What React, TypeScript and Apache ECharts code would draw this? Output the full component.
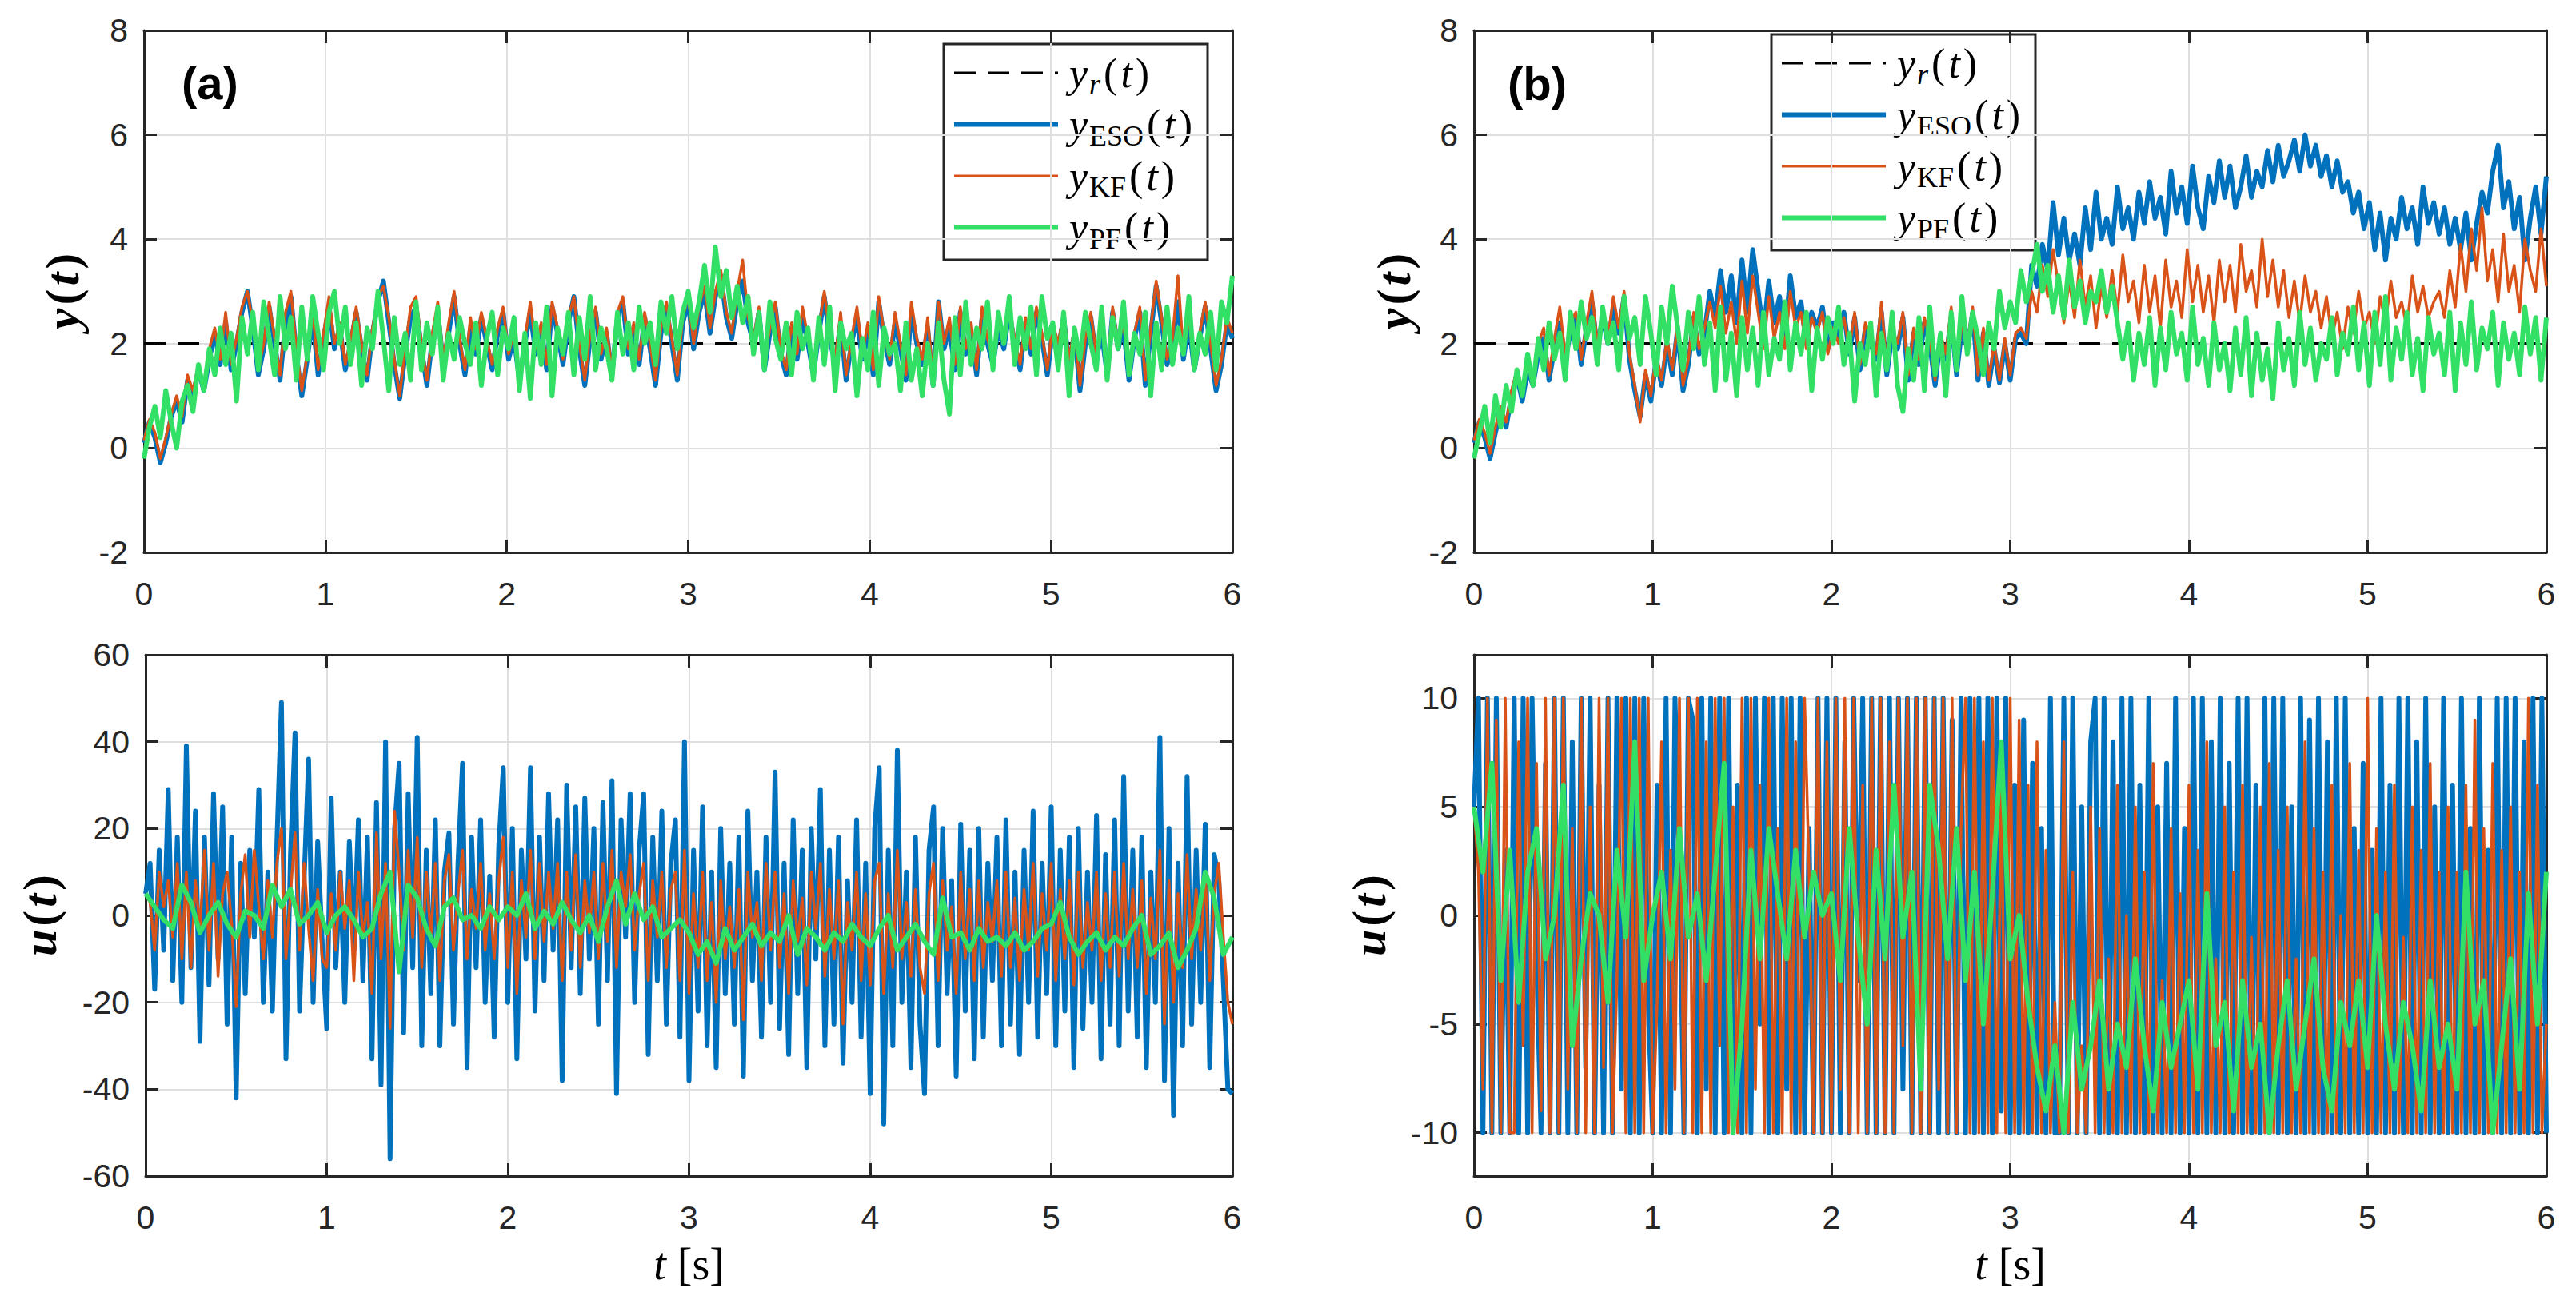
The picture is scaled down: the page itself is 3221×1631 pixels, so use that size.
import React, { useEffect, useRef } from 'react';
import * as echarts from 'echarts';

// every run lasts 6 s, the set-point is constant
const tEnd = 6;
const yRefLevel = 2;

// (a) output y(t)
const yEsoA = [
  0.1, 0.5, 0.2, -0.28, 0.1, 0.6, 0.9, 0.5, 1.3, 1.0,
  1.5, 1.1, 1.7, 2.2, 1.6, 2.4, 1.5, 2.0, 2.6, 3.0,
  2.3, 1.4, 1.9, 2.7, 2.0, 1.3, 2.4, 2.9, 1.8, 1.0,
  1.7, 2.5, 1.4, 2.1, 2.7, 1.9, 2.3, 1.5, 2.0, 2.6,
  1.9, 1.3, 2.2, 2.8, 3.2, 2.4, 1.6, 0.95, 1.8, 2.5,
  2.7, 1.9, 1.2, 2.1, 2.6, 1.6, 2.2, 2.9, 2.0, 1.4,
  2.3, 1.8, 2.5, 2.0, 1.5, 2.2, 2.6, 1.7, 2.1, 1.3,
  2.0, 2.6, 1.8, 2.3, 1.5, 2.7, 2.2, 1.6, 2.4, 2.9,
  1.9, 1.2, 2.1, 2.6, 1.7, 2.2, 1.4, 2.5, 2.8, 1.8,
  2.3, 1.6, 2.5, 1.9, 1.2, 2.2, 2.7, 2.0, 1.3, 2.4,
  2.8, 1.9, 2.6, 3.0, 2.2, 2.9, 3.3, 2.5, 2.1, 2.8,
  3.2, 2.4, 2.0, 2.6, 1.5, 2.2, 2.7, 1.8, 1.4, 2.3,
  1.7, 2.5, 2.0, 1.4, 2.2, 2.9, 2.1, 1.6, 2.4, 1.3,
  2.0, 2.5, 1.7, 2.2, 1.4, 2.8, 2.1, 1.6, 2.4, 1.9,
  1.3, 2.6, 2.0, 1.6, 2.3, 1.2, 2.8, 1.9, 2.3, 1.5,
  2.6, 1.8, 2.2, 1.4, 2.5, 2.0, 1.6, 2.3, 1.9, 2.6,
  2.0, 1.5, 2.4, 1.8, 2.6, 2.1, 1.4, 2.3, 1.9, 2.5,
  1.6, 2.2, 1.1, 2.0, 2.5, 1.7, 2.2, 1.4, 2.6, 1.9,
  2.3, 1.3, 2.1, 2.6, 1.2, 2.2, 3.1, 2.4, 1.6, 2.0,
  2.8, 1.7, 2.4, 1.5, 2.1, 2.7, 1.9, 1.1, 1.6, 2.4,
  2.1,
];
const yKfA = [
  0.15, 0.55, 0.3, -0.2, 0.2, 0.65, 1.0, 0.6, 1.4, 1.1,
  1.6, 1.2, 1.9, 2.3, 1.7, 2.6, 1.6, 2.1, 2.7, 3.0,
  2.4, 1.5, 2.0, 2.8, 2.1, 1.4, 2.6, 3.0, 1.9, 1.1,
  1.8, 2.6, 1.5, 2.2, 2.9, 2.0, 2.4, 1.6, 2.1, 2.7,
  2.0, 1.4, 2.3, 2.9, 3.1, 2.5, 1.7, 1.0, 1.9, 2.7,
  2.9, 2.0, 1.3, 2.2, 2.8, 1.7, 2.4, 3.0, 2.1, 1.5,
  2.5, 1.9, 2.6, 2.1, 1.6, 2.3, 2.7, 1.8, 2.2, 1.4,
  2.1, 2.8, 1.9, 2.4, 1.6, 2.8, 2.3, 1.7, 2.5, 2.9,
  2.0, 1.3, 2.2, 2.7, 1.8, 2.3, 1.5, 2.6, 2.9, 1.9,
  2.4, 1.7, 2.6, 2.0, 1.3, 2.3, 2.8, 2.1, 1.4, 2.5,
  2.9, 2.0, 2.7, 3.1, 2.3, 3.0, 3.4, 2.6, 2.2, 3.0,
  3.6, 2.5, 2.1, 2.7, 1.6, 2.3, 2.8, 1.9, 1.5, 2.4,
  1.8, 2.7, 2.1, 1.5, 2.3, 3.0, 2.2, 1.7, 2.6, 1.4,
  2.1, 2.7, 1.8, 2.4, 1.5, 2.9, 2.2, 1.7, 2.6, 2.0,
  1.4, 2.8, 2.1, 1.7, 2.5, 1.3, 2.8, 2.0, 2.5, 1.6,
  2.7, 1.9, 2.4, 1.5, 2.7, 2.1, 1.7, 2.5, 2.0, 2.7,
  2.1, 1.6, 2.5, 1.9, 2.7, 2.2, 1.5, 2.4, 2.0, 2.6,
  1.7, 2.3, 1.2, 2.1, 2.6, 1.8, 2.4, 1.5, 2.7, 2.0,
  2.4, 1.4, 2.2, 2.7, 1.3, 2.3, 3.2, 2.5, 1.7, 2.1,
  3.3, 1.8, 2.5, 1.6, 2.2, 2.8, 2.0, 1.2, 1.7, 2.5,
  2.2,
];
const yPfA = [
  -0.2, 0.4, 0.8, 0.2, 1.1, 0.5, 0.0, 0.9, 1.2, 0.7,
  1.6, 1.1, 1.9, 1.4, 2.3, 1.6, 2.2, 0.9, 2.5, 1.8,
  2.6, 1.5, 2.8, 2.1, 1.4, 2.9, 1.9, 2.5, 1.3, 2.7,
  1.7, 2.9, 2.2, 1.5, 2.6, 3.0, 2.0, 2.7, 1.6, 2.4,
  1.2, 2.3, 1.9, 3.0, 2.1, 1.1, 2.5, 1.6, 2.2, 1.3,
  2.8, 1.5, 2.4, 1.8, 2.7, 1.3, 2.2, 1.7, 2.5, 2.0,
  1.6, 2.4, 1.2, 2.1, 2.6, 1.4, 2.3, 1.9, 2.5, 1.1,
  2.2, 0.95, 2.4, 1.6, 2.7, 1.0, 2.3, 1.8, 2.6, 1.4,
  2.5, 1.7, 2.9, 1.5, 2.3, 1.9, 1.3, 2.6, 1.8, 2.4,
  1.5, 2.7, 2.0, 2.4, 1.6, 2.8, 2.2, 2.9, 1.9, 2.6,
  3.0, 2.3, 2.8, 3.5, 2.6, 3.85, 2.9, 3.4, 2.5, 3.1,
  2.4, 2.9, 1.8, 2.6, 1.5, 2.8, 2.1, 1.7, 2.4, 1.4,
  2.6, 1.9, 2.3, 1.3, 2.5, 1.6, 2.7, 1.1, 2.4, 1.9,
  2.2, 1.0, 2.1, 1.5, 2.6, 1.2, 2.3, 1.8, 2.0, 1.1,
  2.4, 1.3, 1.9, 1.0, 2.0, 1.2, 2.4, 1.3, 0.65, 2.5,
  1.4, 2.8, 1.6, 2.3, 1.9, 2.8, 1.5, 2.6, 2.0, 2.9,
  1.6, 2.5, 1.9, 2.7, 1.4, 2.9, 2.1, 2.4, 1.5, 2.6,
  1.0, 2.3, 1.7, 2.6, 2.0, 1.5, 2.7, 1.3, 2.5, 1.9,
  2.8, 1.4, 2.2, 1.8, 2.6, 1.0, 2.4, 1.5, 2.7, 1.6,
  2.3, 1.8, 2.9, 1.5, 2.2, 1.8, 2.6, 1.5, 2.8, 2.4,
  3.3,
];

// (b) output y(t)
const yEsoB = [
  0.1, 0.5, 0.2, -0.2, 0.3, 0.7, 0.4, 1.0, 1.4, 0.9,
  1.5, 1.2, 1.8, 2.1, 1.3, 1.9, 2.4, 1.7, 2.2, 2.5,
  1.6, 2.3, 2.8, 1.9, 2.5, 2.0, 2.7, 2.2, 2.9, 1.7,
  1.1, 0.6, 1.4, 0.9, 1.7, 1.2, 2.0, 1.4, 2.3, 1.1,
  1.6, 2.5, 1.8, 2.2, 3.0, 2.5, 3.4, 2.6, 3.3, 2.4,
  3.6, 2.6, 3.8, 3.0, 2.2, 3.2, 2.4, 2.9, 2.1, 3.3,
  2.5, 2.8, 2.0, 2.6, 2.3, 2.7, 1.9, 2.4, 2.1, 2.6,
  1.8, 2.5, 1.5, 2.3, 2.0, 1.7, 2.6, 1.4, 2.2, 1.9,
  2.5, 1.3, 2.2, 1.6, 2.4, 2.0, 1.2, 2.1, 1.7, 2.5,
  1.4, 2.3, 1.9, 2.6, 1.3, 2.2, 1.2, 1.9, 1.25, 2.0,
  1.3, 2.1, 2.2, 2.0, 3.5, 3.1, 3.9, 3.4, 4.7, 3.7,
  4.4, 3.6, 4.1, 3.5, 4.6, 3.8, 4.9, 4.0, 4.4, 3.9,
  5.0, 4.2, 4.6, 4.0, 4.9, 4.3, 5.1, 4.4, 4.8, 4.1,
  5.3, 4.5, 5.0, 4.3, 5.4, 4.6, 4.2, 5.2, 4.7, 5.5,
  4.8, 5.4, 4.6, 5.0, 5.6, 4.8, 5.3, 5.0, 5.7, 5.1,
  5.8, 5.2, 5.5, 5.9, 5.3, 6.0, 5.4, 5.8, 5.2, 5.6,
  5.0, 5.5, 4.9, 5.1, 4.5, 4.9, 4.2, 4.7, 3.8, 4.5,
  3.6, 4.4, 4.0, 4.8, 4.2, 4.6, 3.9, 5.0, 4.3, 4.7,
  4.1, 4.6, 3.9, 4.4, 3.8, 4.5, 3.6, 4.3, 4.9, 4.5,
  5.3, 5.8, 4.6, 5.1, 4.2, 4.8, 3.6, 4.4, 5.0, 4.1,
  5.2,
];
const yKfB = [
  0.15, 0.55, 0.3, -0.1, 0.4, 0.8, 0.5, 1.1, 1.5, 1.0,
  1.7, 1.3, 2.0, 2.3, 1.4, 2.1, 2.7, 1.8, 2.4, 2.6,
  1.7, 2.4, 3.0, 2.0, 2.6, 2.1, 2.9, 2.3, 3.0, 1.8,
  1.2, 0.5, 1.5, 1.0, 1.8, 1.3, 2.1, 1.5, 2.4, 1.2,
  1.7, 2.6, 1.9, 2.3, 2.8, 2.3, 3.1, 2.2, 2.8, 2.0,
  3.2, 2.2, 3.3, 2.6, 1.9, 2.9, 2.1, 2.6, 1.9, 3.0,
  2.3, 2.6, 1.9, 2.5, 2.2, 2.6, 1.8, 2.3, 2.0, 2.5,
  1.9, 2.6, 1.6, 2.4, 2.1, 1.8, 2.8, 1.5, 2.3, 2.0,
  2.6, 1.4, 2.3, 1.7, 2.5, 2.1, 1.3, 2.2, 1.8, 2.7,
  1.5, 2.4, 2.0, 2.7, 1.4, 2.3, 1.3, 2.0, 1.3, 2.1,
  1.4, 2.2, 2.3, 2.1, 3.0, 2.6, 3.5, 2.9, 3.8, 3.1,
  2.4, 3.2, 2.5, 3.6, 2.7, 3.3, 2.3, 3.1, 2.5, 3.4,
  2.6, 3.7, 2.8, 3.2, 2.4, 3.5, 2.6, 3.3, 2.3, 3.6,
  2.7, 3.2, 2.5, 3.8, 2.8, 3.5, 2.6, 3.3, 2.4, 3.6,
  2.8, 3.5, 2.6, 3.9, 3.0, 3.4, 2.7, 4.0, 2.9, 3.6,
  2.7, 3.4, 2.5, 3.2, 2.4, 3.3, 2.6, 3.0, 2.3, 2.9,
  2.1, 2.6, 1.9, 2.7, 2.2, 3.0, 2.3, 2.6, 2.0, 2.9,
  2.4, 3.2, 2.5, 2.8, 2.3, 3.3, 2.6, 3.1, 2.5, 2.8,
  3.0, 2.5, 3.4, 2.7, 3.9, 3.0, 4.2, 3.4, 4.6, 3.2,
  3.8, 2.8, 4.1, 3.0, 3.5, 2.6, 4.0, 3.4, 3.0, 4.2,
  3.1,
];
const yPfB = [
  -0.2, 0.3, 0.8, 0.1, 1.0, 0.4, 1.2, 0.7, 1.5, 1.0,
  1.8, 1.2, 2.1, 1.5, 2.4, 1.7, 2.2, 1.3, 2.6, 1.9,
  2.8, 2.1, 2.5, 1.6, 2.7, 2.0, 2.4, 1.5, 2.9, 2.1,
  2.5, 1.6, 2.9, 2.2, 1.4, 2.7, 2.0, 3.1, 2.3, 1.5,
  2.6, 1.9, 2.9, 1.6, 2.4, 1.1, 2.7, 1.3, 2.2, 1.0,
  2.5, 1.5, 2.3, 1.2, 2.6, 1.4, 2.1, 1.7, 2.8, 1.5,
  2.4, 1.8, 2.6, 1.1, 2.3, 1.7, 2.5, 2.0, 2.7, 1.6,
  2.2, 0.9, 2.0, 1.6, 2.4, 1.0, 2.2, 1.5, 2.6, 1.2,
  0.7, 1.9, 1.3, 2.5, 1.1, 2.7, 1.4, 2.2, 1.0, 2.6,
  1.5, 2.9, 1.8, 2.6, 2.1, 1.4, 2.4, 1.9, 3.0, 2.3,
  2.8, 2.4, 3.4, 2.8, 3.3, 3.9, 3.0, 3.5, 2.6, 3.3,
  2.5, 3.6, 2.7, 3.2, 2.4, 3.0, 2.8, 3.4, 2.6, 3.1,
  2.4, 1.7, 2.4, 1.3, 2.2, 1.6, 2.5, 1.2, 2.3, 1.5,
  2.6, 1.8, 2.2, 1.3, 2.7, 1.6, 2.1, 1.2, 2.4, 1.5,
  2.0, 1.1, 2.3, 1.4, 2.5, 1.0, 2.2, 1.3, 1.9, 0.95,
  2.4, 1.5, 2.1, 1.2, 2.6, 1.6, 2.3, 1.3, 2.0, 1.7,
  2.5, 1.4, 2.2, 1.8, 2.7, 1.5, 2.4, 1.2, 2.6, 1.6,
  2.9, 1.3, 2.3, 1.7, 2.6, 1.4, 2.1, 1.1, 2.5, 1.8,
  2.2, 1.4, 2.6, 1.1, 2.4, 1.6, 2.8, 1.5, 2.3, 1.9,
  2.6, 1.2, 2.4, 1.7, 2.2, 1.4, 2.7, 1.8, 2.5, 1.3,
  2.5,
];

// (a) control u(t)
const uEsoA = [
  5, 12, -17, 15, -8, 29, -15, 18, -20, 39,
  -12, 24, -29, 18, -16, 28, -10, 25, -25, 18,
  -42, 12, -18, 15, -5, 29, -20, 10, -22, 17,
  49, -33, 14, 42, -22, 8, 36, -20, 17, -6,
  -26, 27, -12, 10, -20, 17, -8, 22, -15, 18,
  -33, 26, -39, 40, -56, 20, 35, -27, 28, -12,
  41, -30, 15, -18, 22, -30, 10, 19, -25, 12,
  35, -35, 18, -12, 22, -20, 9, -28, 16, 34,
  -20, 20, -33, 15, -10, 34, -22, 18, -15, 28,
  -8, 22, -38, 30, -12, 25, -18, 27, -10, 20,
  -25, 26, -15, 31, -41, 22, -5, 28, -20, 15,
  28, -32, 18, -15, 24, -25, 12, 22, -28, 40,
  -38, 15, -22, 25, -30, 10, -35, 20, -18, 12,
  -25, 18, -37, 24, -15, 10, -28, 18, -20, 33,
  -26, 12, -32, 22, -18, 15, -35, 20, -10, 29,
  -30, 15, -25, 18, -34, 8, -20, 22, -28, 12,
  -41, 20, 34, -48, 15, -30, 38, -20, 10, -35,
  18, -25, -41, 15, 25, -30, 20, -18, 8, -37,
  21, -22, 15, -33, 20, -28, 12, -15, 18, -30,
  22, -25, 10, -32, 15, -20, 24, -28, 12, -18,
  25, -30, 15, -22, 18, -35, 20, -26, 10, -20,
  23, -33, 14, -25, 22, -30, 32, -22, 15, -28,
  18, -35, 10, -20, 41, -38, 20, -46, 12, -30,
  32, -25, 15, -20, 21, -35, 14, 8, -15, -40,
  -41,
];
const uKfA = [
  5, 3, -8, 10, 2, 8, -5, 12, -10, 10,
  -12, 8, -3, 15, -8, 12, -14, 5, 10, -2,
  -21, 5, 14, -5, 15, 2, -10, 8, -5, 12,
  20, -10, 5, 19, -8, 12, -3, -15, 6, -10,
  -12, 5, -8, 10, -3, 8, -15, 10, -5, 3,
  -18, 19, -10, 12, -26, 24, 10, -8, 15, -5,
  18, -12, 10, -5, 12, -15, 8, 14, -8, 5,
  15, -10, 6, -3, 12, -8, 5, -10, 8, 18,
  -12, 10, -18, 8, -5, 15, -10, 12, -6, 10,
  -3, 12, -15, 10, -8, 14, -12, 8, -4, 10,
  -10, 12, -6, 15, -12, 10, 2, 14, -8, 5,
  12, -15, 8, -5, 10, -12, 6, 10, -15, 15,
  -18, 5, -12, 10, -15, 3, -20, 8, -10, 2,
  -12, 6, -24, 10, -5, 3, -15, 12, -8, 10,
  -12, 5, -18, 8, -6, 4, -16, 10, -3, 12,
  -14, 6, -10, 8, -25, 3, -8, 10, -15, 5,
  -16, 8, 12, -18, 5, -12, 15, -10, 3, -14,
  6, -12, -18, 5, 12, -15, 8, -8, 2, -18,
  10, -10, 6, -15, 8, -12, 3, -6, 8, -14,
  10, -12, 4, -15, 6, -8, 12, -14, 5, -8,
  12, -15, 6, -10, 8, -16, 10, -12, 3, -8,
  10, -15, 5, -12, 10, -14, 12, -10, 6, -12,
  8, -18, 4, -10, 15, -25, 8, -20, 5, -12,
  14, -10, 6, -8, 10, -15, 5, 12, -5, -20,
  -25,
];
const uPfA = [
  5, 2, -1, -3, 7, 3, -4, 0, 3, -2,
  -5, 1, 0, -3, 7, 2, 6, -2, 0, 3,
  -4, 0, 2, -1, -5, -3, 5, 10, -13, 7,
  4, -3, -7, 2, 4, -1, 0, -3, 2, -1,
  2, 0, 5, -3, 1, -2, 3, -1, -4, 0,
  -6, 2, 8, -2, 5, -1, 2, -5, -3, -1,
  -4, -9, -6, -11, -3, -8, -5, -2, -7, -4,
  -6, 0, -9, -3, -5, -8, -4, -6, -2, -5,
  -7, -3, 0, -8, -5, -2, -6, -9, 4, -5,
  -4, -8, -3, -6, -5, -7, -4, -8, -6, -3,
  -2, 3, -5, -9, -6, -4, -8, -5, -7, -3,
  0, -9, -7, -4, -12, -8, -3, 10, 4, -9,
  -5,
];

// (b) control u(t), saturated at +/-10
const uEsoB = [
  5, 10, -10, 10, -10, 10, -10, 3, -10, 10,
  -10, 10, -10, 10, -2, -10, 7, -10, 10, -10,
  10, -10, 8, -10, 10, -7, 10, -10, 6, -10,
  10, -10, 10, -8, 10, -10, 10, -10, 10, -4,
  -10, 6, -10, 10, -10, 10, 2, -10, 10, 9,
  -10, 10, -8, 10, -10, 10, -10, 10, -10, 6,
  -10, 10, -10, 10, -5, 10, -10, 10, -10, 10,
  -8, 10, -10, 10, -10, 4, -10, 10, -10, 10,
  -10, 10, -10, 8, -10, 10, -3, 10, -10, 10,
  -10, 10, -10, 10, -10, 10, -8, 10, -10, 10,
  -10, 10, -10, 10, -10, 10, -10, 9, -10, 10,
  -10, 10, -10, 10, -10, 10, -10, 10, -9, 10,
  -10, 6, -10, 9, -10, 7, -10, 4, -10, 10,
  -10, -10, 10, -10, 10, -10, 5, -10, 8, 10,
  -10, 10, -10, 8, -10, 10, -10, 10, -10, 6,
  -10, 10, -10, 5, -10, 7, -10, 10, -10, 4,
  -10, 10, -10, 10, -10, 8, -10, 10, -10, 7,
  -10, 10, -10, 10, -10, 6, -10, 10, -10, 10,
  -10, 10, -10, 5, -10, 10, -10, 9, -10, 10,
  -10, 8, -10, 10, -10, 10, -10, 4, -10, 7,
  -10, 3, -10, 10, -10, 6, -10, 10, -10, 10,
  -10, 8, -10, 10, -10, 5, -10, 10, -10, 6,
  -10, 10, -10, 4, -10, 10, -10, 3, -10, 10,
  -10, 10, -10, 10, -10, 8, -10, 10, -10, 10,
  -10,
];
const uKfB = [
  5, 2, -8, 10, -10, 9, -10, 10, -10, -10,
  8, -6, 10, -10, 7, -9, 10, -10, 10, -10,
  10, -8, 4, -10, 10, -10, 5, -10, 10, -7,
  10, -10, -3, 10, -10, 10, -10, 10, -10, 10,
  -10, -4, 8, -10, 3, -8, 10, -10, 10, -10,
  10, -10, 8, -10, 10, -6, 10, -10, 5, -10,
  10, -10, 10, -8, 6, -10, 10, -10, 4, -10,
  10, -10, 8, -10, 10, 2, -10, 10, -10, 8,
  -10, 10, -8, 10, -10, 10, -10, 6, -10, 10,
  -10, 10, -10, 8, -10, 10, -6, 10, -10, 10,
  -10, 10, -10, 10, -8, 10, -10, 10, -10, 4,
  10, -10, 10, -10, 8, -10, 10, -10, 6, -10,
  10, -10, 9, -10, 6, -10, 8, -10, 3, -10,
  -4, -10, 8, -10, 2, -10, -6, -10, 5, -10,
  4, -10, -2, -10, 6, -10, 0, -10, 5, -10,
  2, -10, 7, -10, -3, -10, 4, -10, 1, -10,
  6, -10, 3, -10, 8, -10, -2, -10, 5, -10,
  2, -10, 6, -10, -1, -10, 5, -10, 7, -10,
  3, -10, 5, -10, -2, -10, 8, -10, 4, -10,
  2, -10, 6, -10, 0, -10, 7, -10, 3, -10,
  10, -10, 4, -10, 2, -10, 6, -10, -1, -10,
  5, -10, 3, -10, 7, -10, 2, -10, 5, -10,
  2, -10, 6, -10, 9, -10, 4, -10, 7, -10,
  3, -10, 5, -10, 2, -10, 10, -10, 6, -10,
  -5,
];
const uPfB = [
  5, 2, 7, -3, 3, -4, 2, 4, -2, 0,
  6, -6, -2, 1, 0, -4, 3, -1, 8, -3,
  0, 2, -2, 4, -1, 1, -3, 2, 7, -10,
  -5, 3, -2, 4, 1, -2, 3, -1, 2, 0,
  1, -3, 4, -1, -5, 3, -2, 6, -1, 2,
  -8, 6, 3, -2, 4, -3, 2, -5, 1, 8,
  -2, 0, -4, -7, -9, -6, -10, -4, -8, -6,
  -3, -8, -5, -7, -2, -6, -9, -4, -7, -5,
  -3, -8, 1, -6, -4, -9, -3, -7, -5, -10,
  -6, -3, -8, -5, -2, -7, -9, -4, -6, -3,
  -7, 0, -5, -8, -4, -6, -9, -3, -7, -5,
  -8, 2, -5, -3, -10, -6, -2, -8, 1, -5,
  2,
];

const yTopScale = { min: -2, max: 8, interval: 2 };
const uLeftScale = { min: -60, max: 60, interval: 20 };
const uRightScale = { min: -12, max: 12, splitNumber: 5 };
const panelTags = ['(a)', '(b)'];

const BLUE = '#0072bd';
const ORANGE = '#d95319';
const GREEN = '#33e066';
const INK = '#262626';
const GRID = '#dfdfdf';
const SANS = '"Liberation Sans", Arial, Helvetica, sans-serif';
const SERIF = '"Liberation Serif", "Times New Roman", serif';

// plot boxes in page pixels: (a) top, (b) top, (a) bottom, (b) bottom
const boxes = [
  { left: 180, top: 38, width: 1361, height: 653 },
  { left: 1843, top: 38, width: 1341, height: 653 },
  { left: 182, top: 819, width: 1359, height: 652 },
  { left: 1843, top: 819, width: 1341, height: 652 },
];

const toPairs = (vals: number[]) =>
  vals.map((v, i) => [(i * tEnd) / (vals.length - 1), v]);

const frameLine = { show: true, onZero: false, lineStyle: { color: INK, width: 3 } };
const innerTick = { show: true, inside: true, length: 16, lineStyle: { color: INK, width: 3 } };

const nameRich = {
  i: { fontFamily: SERIF, fontStyle: 'italic', fontWeight: 'bold', fontSize: 60, color: '#000', padding: [0, 2] },
  p: { fontFamily: SERIF, fontWeight: 'bold', fontSize: 60, color: '#000', padding: [0, 2] },
};
const timeRich = {
  i: { fontFamily: SERIF, fontStyle: 'italic', fontSize: 56, color: '#000' },
  n: { fontFamily: SERIF, fontSize: 56, color: '#000' },
};
const legendRich = {
  i: { fontFamily: SERIF, fontStyle: 'italic', fontSize: 52, lineHeight: 64, fill: '#000', padding: [0, 2] },
  p: { fontFamily: SERIF, fontSize: 52, lineHeight: 64, fill: '#000', padding: [0, 2] },
  si: { fontFamily: SERIF, fontStyle: 'italic', fontSize: 36, lineHeight: 40, verticalAlign: 'bottom', fill: '#000', padding: [0, 2, 0, 0] },
  sr: { fontFamily: SERIF, fontSize: 36, lineHeight: 40, verticalAlign: 'bottom', fill: '#000', padding: [0, 2, 0, 0] },
};

const legendRows = [
  { sub: '{si|r}', color: '#000', width: 3, dash: [27, 15] },
  { sub: '{sr|ESO}', color: BLUE, width: 6, dash: null },
  { sub: '{sr|KF}', color: ORANGE, width: 3, dash: null },
  { sub: '{sr|PF}', color: GREEN, width: 6, dash: null },
];

function legendBox(x: number, y: number) {
  const children: any[] = [
    {
      type: 'rect',
      shape: { x: 0, y: 0, width: 330, height: 270 },
      style: { fill: '#fff', stroke: INK, lineWidth: 3 },
    },
  ];
  legendRows.forEach((row, k) => {
    const ry = 36 + k * 64.5;
    children.push({
      type: 'line',
      shape: { x1: 13, y1: ry, x2: 143, y2: ry },
      style: { stroke: row.color, lineWidth: row.width, lineDash: row.dash || undefined },
    });
    children.push({
      type: 'text',
      x: 155,
      y: ry,
      style: {
        text: `{i|y}${row.sub}{p|(}{i|t}{p|)}`,
        rich: legendRich,
        align: 'left',
        verticalAlign: 'middle',
        textAlign: 'left',
        textVerticalAlign: 'middle',
      },
    });
  });
  return { type: 'group', x, y, z: 100, children };
}

function mainX(gridIndex: number, named: boolean) {
  return {
    type: 'value',
    gridIndex,
    position: 'bottom',
    min: 0,
    max: tEnd,
    interval: 1,
    axisLine: frameLine,
    axisTick: innerTick,
    axisLabel: { color: INK, fontFamily: SANS, fontSize: 41, margin: 31 },
    splitLine: { show: true, lineStyle: { color: GRID, width: 2 } },
    name: named ? '{i|t}{n| [s]}' : '',
    nameLocation: 'middle',
    nameGap: 82,
    nameTextStyle: { rich: timeRich },
  };
}

function mirrorX(gridIndex: number) {
  return {
    type: 'value',
    gridIndex,
    position: 'top',
    min: 0,
    max: tEnd,
    interval: 1,
    axisLine: frameLine,
    axisTick: innerTick,
    axisLabel: { show: false },
    splitLine: { show: false },
  };
}

function mainY(gridIndex: number, scale: any, letter: string, nameGap: number) {
  const ends = scale.interval ? true : false;
  return {
    type: 'value',
    gridIndex,
    position: 'left',
    ...scale,
    axisLine: frameLine,
    axisTick: innerTick,
    axisLabel: { color: INK, fontFamily: SANS, fontSize: 41, margin: 20, showMinLabel: ends, showMaxLabel: ends },
    splitLine: { show: true, lineStyle: { color: GRID, width: 2 } },
    name: `{i|${letter}}{p|(}{i|t}{p|)}`,
    nameLocation: 'middle',
    nameGap,
    nameTextStyle: { rich: nameRich },
  };
}

function mirrorY(gridIndex: number, scale: any) {
  return {
    type: 'value',
    gridIndex,
    position: 'right',
    ...scale,
    axisLine: frameLine,
    axisTick: innerTick,
    axisLabel: { show: false },
    splitLine: { show: false },
  };
}

function line(vals: number[], axis: number, color: string, width: number, dash?: number[]) {
  return {
    type: 'line',
    xAxisIndex: axis,
    yAxisIndex: axis,
    data: toPairs(vals),
    showSymbol: false,
    symbol: 'none',
    silent: true,
    lineStyle: { color, width, join: 'round', cap: 'butt', type: dash || 'solid' },
    itemStyle: { color },
    emphasis: { disabled: true },
  };
}

export default function App() {
  const ref = useRef<HTMLDivElement>(null);

  useEffect(() => {
    if (!ref.current) return;
    const chart = echarts.init(ref.current, undefined, { renderer: 'svg' });

    const option: any = {
      animation: false,
      backgroundColor: '#fff',
      grid: boxes.map((b) => ({ ...b, containLabel: false })),
      xAxis: [
        mainX(0, false),
        mainX(1, false),
        mainX(2, true),
        mainX(3, true),
        mirrorX(0),
        mirrorX(1),
        mirrorX(2),
        mirrorX(3),
      ],
      yAxis: [
        mainY(0, yTopScale, 'y', 72),
        mainY(1, yTopScale, 'y', 70),
        mainY(2, uLeftScale, 'u', 102),
        mainY(3, uRightScale, 'u', 101),
        mirrorY(0, yTopScale),
        mirrorY(1, yTopScale),
        mirrorY(2, uLeftScale),
        mirrorY(3, uRightScale),
      ],
      series: [
        line([yRefLevel, yRefLevel], 0, '#000', 3.5, [27, 15]),
        line(yEsoA, 0, BLUE, 6),
        line(yKfA, 0, ORANGE, 3.5),
        line(yPfA, 0, GREEN, 6),
        line([yRefLevel, yRefLevel], 1, '#000', 3.5, [27, 15]),
        line(yEsoB, 1, BLUE, 6),
        line(yKfB, 1, ORANGE, 3.5),
        line(yPfB, 1, GREEN, 6),
        line(uEsoA, 2, BLUE, 6),
        line(uKfA, 2, ORANGE, 3.5),
        line(uPfA, 2, GREEN, 6),
        line(uEsoB, 3, BLUE, 6),
        line(uKfB, 3, ORANGE, 3.5),
        line(uPfB, 3, GREEN, 6),
      ],
      graphic: [
        {
          type: 'text',
          x: 227,
          y: 103,
          style: { text: panelTags[0], font: `bold 58px ${SANS}`, fill: '#000', textVerticalAlign: 'middle', verticalAlign: 'middle' },
        },
        {
          type: 'text',
          x: 1885,
          y: 104,
          style: { text: panelTags[1], font: `bold 58px ${SANS}`, fill: '#000', textVerticalAlign: 'middle', verticalAlign: 'middle' },
        },
        legendBox(1180, 55),
        legendBox(2215, 43),
      ],
    };

    chart.setOption(option);
    return () => chart.dispose();
  }, []);

  return (
    <div
      ref={ref}
      style={{ position: 'fixed', left: 0, top: 0, width: 3221, height: 1631, background: '#fff' }}
    />
  );
}
